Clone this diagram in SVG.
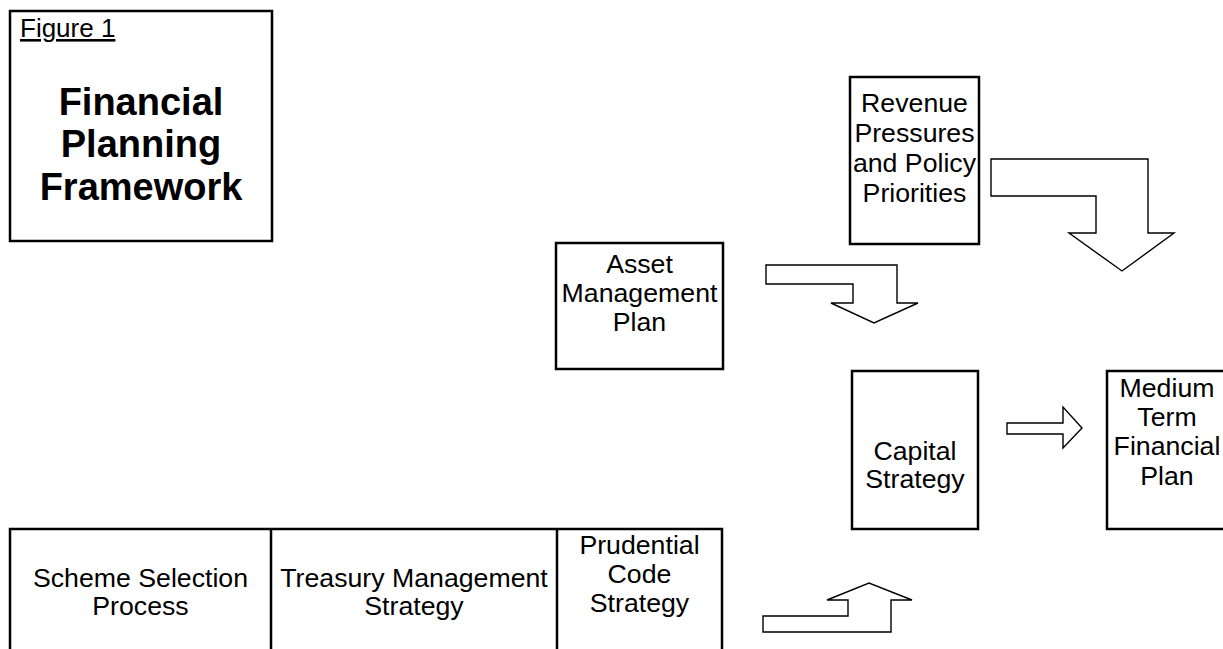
<svg xmlns="http://www.w3.org/2000/svg" width="1223" height="649" viewBox="0 0 1223 649">
<style>
.box{fill:#fff;stroke:#000;stroke-width:2.5}
.arr{fill:#fff;stroke:#000;stroke-width:1.4;stroke-linejoin:miter}
text{font-family:"Liberation Sans",Arial,sans-serif;font-size:26.7px;fill:#000;text-anchor:middle}
.title{font-size:38px;font-weight:bold}
.fig{text-anchor:start;text-decoration:underline;font-size:26px}
.ln{stroke:#000;stroke-width:2.5;fill:none}
</style>
<rect width="1223" height="649" fill="#fff"/>
<g id="title-box">
<rect class="box" x="10" y="11" width="262" height="230"/>
<text class="fig" x="20" y="37">Figure 1</text>
<text class="title" x="141" y="115">Financial</text>
<text class="title" x="141" y="157">Planning</text>
<text class="title" x="141" y="200">Framework</text>
</g>
<g id="revenue">
<rect class="box" x="850" y="77" width="129" height="167"/>
<text x="914.5" y="112">Revenue</text>
<text x="914.5" y="142">Pressures</text>
<text x="914.5" y="172">and Policy</text>
<text x="914.5" y="202">Priorities</text>
</g>
<g id="asset">
<rect class="box" x="556" y="243" width="167" height="126"/>
<text x="639.5" y="273">Asset</text>
<text x="639.5" y="302">Management</text>
<text x="639.5" y="331">Plan</text>
</g>
<g id="capital">
<rect class="box" x="852" y="371" width="126" height="158"/>
<text x="915" y="460">Capital</text>
<text x="915" y="488">Strategy</text>
</g>
<g id="mtfp">
<rect class="box" x="1107" y="371" width="125" height="158"/>
<text x="1167" y="397">Medium</text>
<text x="1167" y="426">Term</text>
<text x="1167" y="455">Financial</text>
<text x="1167" y="485">Plan</text>
</g>
<g id="bottom-table">
<path class="ln" d="M10,660 V529 H722 V660 M271,529 V660 M557,529 V660"/>
<text x="140.5" y="587">Scheme Selection</text>
<text x="140.5" y="615">Process</text>
<text x="414" y="587">Treasury Management</text>
<text x="414" y="615">Strategy</text>
<text x="639.5" y="554">Prudential</text>
<text x="639.5" y="583">Code</text>
<text x="639.5" y="612">Strategy</text>
</g>
<g id="connectors">
<path class="arr" d="M991,159 H1148 V233 H1174 L1122,271 L1069,233 H1096 V196 H991 Z"/>
<path class="arr" d="M766,265 H897 V303 H918 L874,323 L831,303 H853 V284 H766 Z"/>
<path class="arr" d="M1007,423 H1063 V407 L1082,428 L1063,448 V434 H1007 Z"/>
<path class="arr" d="M763,616 H848 V600 H827 L869,583 L912,600 H891 V632 H763 Z"/>
</g>
</svg>
